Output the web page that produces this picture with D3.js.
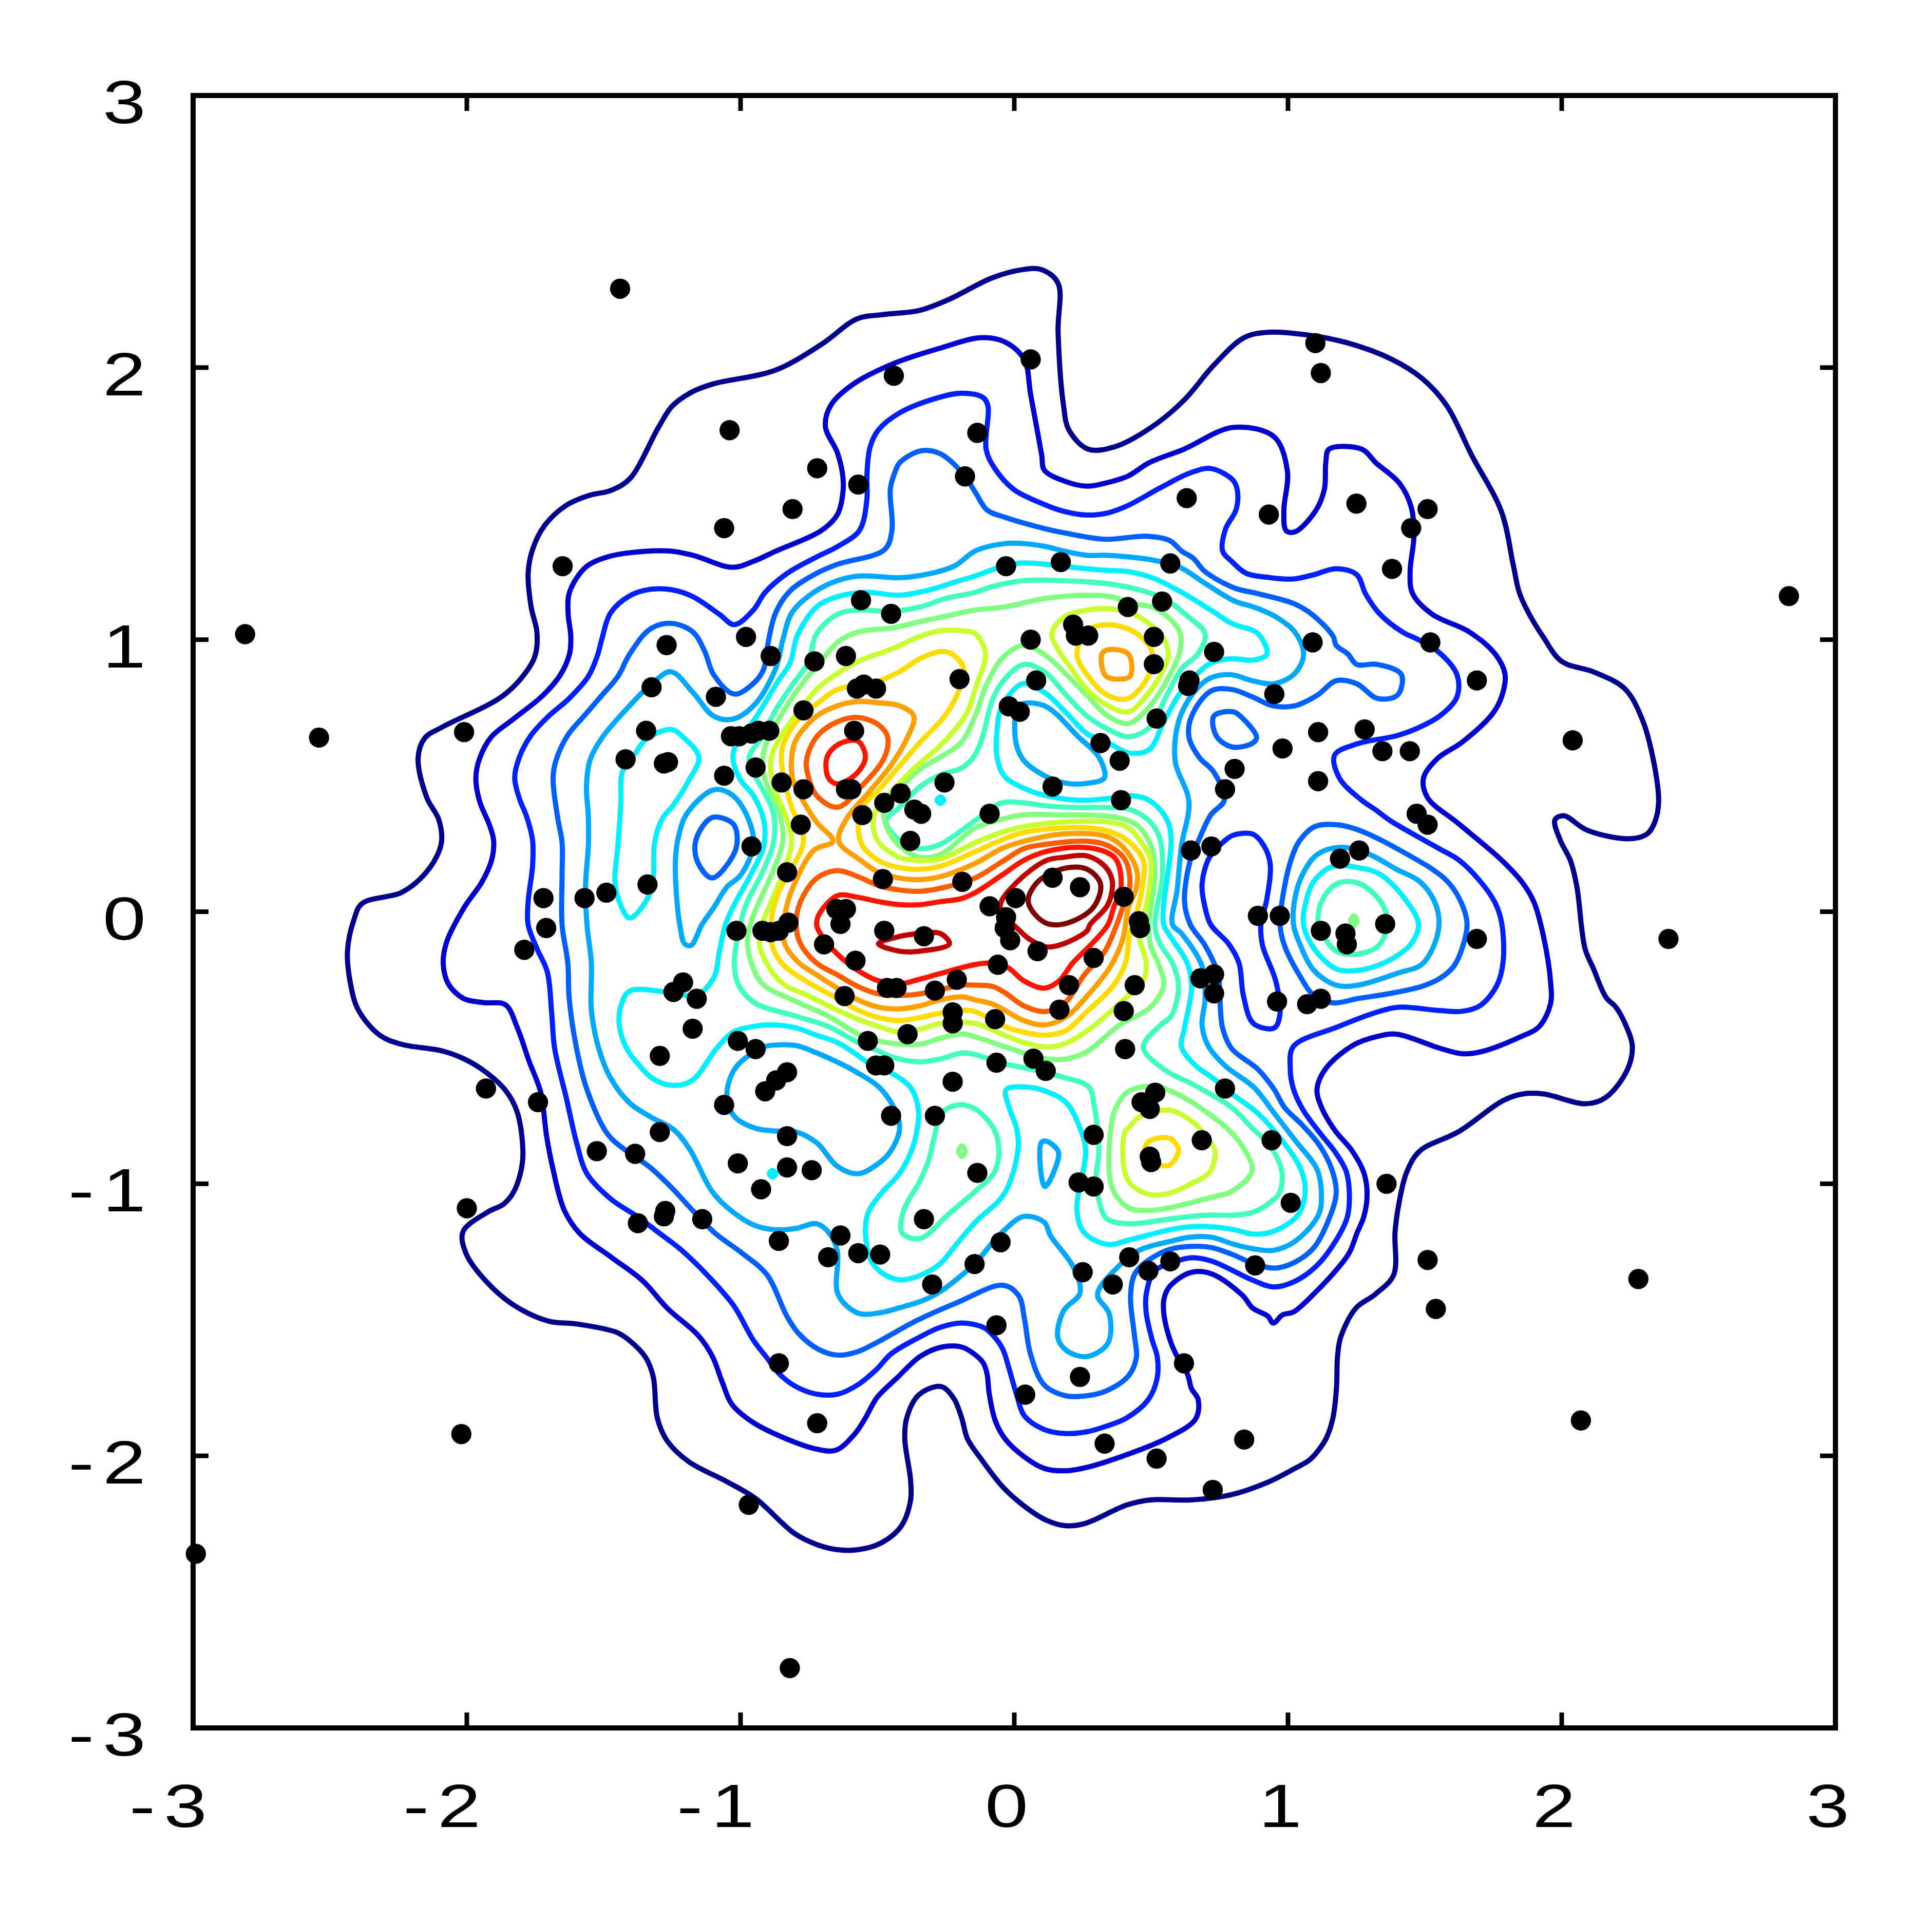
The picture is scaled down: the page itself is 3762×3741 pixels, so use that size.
<!DOCTYPE html>
<html><head><meta charset="utf-8"><style>html,body{margin:0;padding:0;background:#fff}svg{display:block}</style>
<script src="https://cdn.jsdelivr.net/npm/d3@7"></script></head><body><script>
const pointX=[-1.44,-2.81,-2.54,-2.01,-1.65,-1.72,-1.71,-1.79,-1.57,-1.49,-1.93,-1.74,-2.00,-2.02,-2.99,-0.82,-0.97,-0.72,-0.86,-0.44,0.06,-1.04,-1.06,-0.72,-0.81,-0.57,-0.135,-0.18,0.63,0.93,1.10,1.12,1.25,1.51,1.45,1.38,1.52,1.69,2.83,2.04,2.39,2.28,2.07,1.51,1.54,1.36,1.01,0.94,0.77,1.69,1.355,1.21,1.215,1.12,0.89,0.97,0.96,1.07,1.12,0.68,0.73,0.73,1.19,1.26,1.47,1.51,1.445,1.345,1.28,1.11,1.11,0.98,0.95,1.09,0.805,0.77,0.645,0.72,0.73,0.64,0.635,0.52,0.51,0.51,0.54,0.415,0.57,0.17,-0.03,0.215,0.225,0.27,0.06,0.08,-0.02,0.02,0.315,0.385,0.14,0.39,-0.09,-0.20,-0.255,-0.415,-0.475,-0.365,-0.34,-0.38,-0.555,-0.615,-0.595,-0.585,-0.575,-0.55,-0.505,-0.615,-0.73,-0.77,-0.56,-0.45,-0.89,-0.98,-1.09,-1.27,-1.325,-1.345,-1.42,-1.28,-1.265,-1.035,-1.005,-0.96,-0.935,-0.895,-0.945,-1.06,-0.85,-0.77,-0.78,-0.96,-0.83,-1.34,-1.015,-0.92,-0.89,-0.86,-0.825,-0.65,-0.615,-0.635,-0.48,-0.19,-0.475,-0.33,-0.695,-0.58,-0.62,-0.465,-0.43,-0.29,-0.21,-0.225,-0.225,-0.07,-0.06,-0.39,-0.535,-0.505,-0.475,-0.225,-0.065,0.07,0.115,-1.21,-1.245,-1.16,-1.175,-1.295,-1.01,-0.945,-0.83,-0.87,-0.91,-1.06,-1.295,-1.525,-1.385,-0.83,-1.01,-0.925,-0.83,-0.74,-0.45,-0.29,-0.135,-0.33,-1.375,-1.28,-1.275,-1.14,-0.86,-0.635,-0.68,-0.57,-0.49,-0.30,-0.145,-0.05,-0.065,0.04,0.24,0.33,0.52,0.725,0.84,0.62,0.25,0.36,0.42,0.49,0.57,0.88,0.235,0.29,0.29,0.685,0.50,0.495,0.465,0.515,0.495,0.405,0.40,0.44,0.165,0.20,0.29,0.085,-0.015,-0.035,-0.03,-0.09,0.005,0.14,0.24,0.40,0.455,0.46];
const pointY=[2.29,1.02,0.64,0.66,1.27,0.05,-0.06,-0.14,0.05,0.07,-0.65,-0.70,-1.09,-1.92,-2.36,-2.78,-2.18,-1.88,-1.66,1.97,2.03,1.77,1.41,1.63,1.48,1.57,1.76,1.60,1.52,1.46,2.09,1.98,1.50,1.48,1.41,1.26,0.99,0.85,1.16,0.63,-0.10,-1.35,-1.87,-1.28,-1.46,-1.00,-1.07,-0.84,-0.65,-0.10,-0.045,-0.08,-0.12,-0.07,-0.015,-0.015,-0.33,-0.34,-0.32,-0.245,-0.23,-0.30,0.195,0.225,0.36,0.32,0.59,0.59,0.67,0.66,0.48,0.60,0.80,0.99,0.525,0.45,0.225,0.24,0.955,0.85,0.83,0.71,1.01,0.91,1.14,1.12,1.28,1.285,1.27,1.055,1.015,1.015,1.00,0.85,0.755,0.735,0.62,0.555,0.46,0.41,0.36,0.855,0.475,0.435,0.40,0.375,0.36,0.26,0.355,0.45,0.45,0.665,0.82,0.835,0.82,0.94,0.92,0.74,1.145,1.095,0.94,1.01,0.79,0.98,0.825,0.665,0.56,0.545,0.55,0.645,0.645,0.655,0.665,0.665,0.53,0.50,0.475,0.45,0.32,0.24,0.145,0.10,-0.07,-0.07,-0.075,-0.07,-0.04,0.01,0.01,-0.045,0.12,0.11,-0.07,-0.09,-0.12,-0.18,-0.31,-0.28,-0.28,-0.29,-0.25,-0.37,-0.41,-0.395,-0.195,-0.45,-0.475,-0.565,-0.565,-0.625,-0.555,-0.54,-0.585,-0.26,-0.295,-0.32,-0.43,-0.53,-0.475,-0.505,-0.59,-0.62,-0.66,-0.71,-0.81,-0.88,-0.89,-0.825,-0.925,-1.02,-0.94,-0.95,-0.75,-0.75,-0.96,-1.13,-1.145,-1.12,-1.10,-1.13,-1.21,-1.19,-1.27,-1.255,-1.26,-1.37,-1.295,-1.215,-1.52,-1.775,-1.71,-1.955,-2.01,-2.125,-1.94,-1.66,-1.325,-1.37,-1.27,-1.32,-1.285,-1.30,-0.995,-1.01,-0.82,-0.84,-0.92,-0.90,-0.70,-0.665,-0.725,-0.505,-0.365,-0.27,-0.36,-0.27,-0.17,-0.145,-0.105,-0.06,-0.02,0.02,0.05,0.125,0.09,0.055,-0.035,-0.06];
const tickValues=[-3,-2,-1,0,1,2,3];
const levelColors=["#00008f","#0000cf","#0020ff","#0060ff","#00a8ff","#00f0ff","#40ffc0","#80ff80","#c8ff30","#ffdc00","#ffa000","#ff5c00","#ff1400","#c00000","#800000"];

// Contour rings, in data units: x,y,x,y,...
const level0=[[0.03,2.36,0.10,2.36,0.16,2.31,0.16,2.13,0.18,1.86,0.20,1.77,0.27,1.70,0.37,1.71,0.50,1.78,0.62,1.88,0.73,2.01,0.84,2.11,0.93,2.13,1.07,2.12,1.22,2.09,1.38,2.03,1.49,1.96,1.58,1.86,1.67,1.68,1.78,1.47,1.823,1.274,1.845,1.173,1.879,1.098,1.933,1.009,2.0,0.92,2.12,0.88,2.23,0.82,2.294,0.7075,2.336,0.551,2.354,0.407,2.342,0.335,2.312,0.286,2.24,0.268,2.09,0.301,2.007,0.353,1.975,0.337,1.995,0.262,2.031,0.19,2.055,0.094,2.085,-0.135,2.115,-0.207,2.162,-0.315,2.198,-0.351,2.234,-0.417,2.258,-0.495,2.24,-0.58,2.162,-0.682,2.087,-0.706,1.935,-0.67,1.857,-0.67,1.786,-0.694,1.624,-0.808,1.481,-0.88,1.433,-0.959,1.403,-1.085,1.391,-1.179,1.386,-1.335,1.319,-1.406,1.248,-1.457,1.193,-1.562,1.181,-1.634,1.177,-1.752,1.164,-1.861,1.139,-1.937,1.101,-1.992,1.076,-2.017,1.018,-2.05,0.926,-2.097,0.792,-2.143,0.647,-2.162,0.497,-2.162,0.41,-2.181,0.26,-2.248,0.188,-2.257,0.116,-2.236,0.037,-2.185,-0.042,-2.114,-0.12,-2.013,-0.171,-1.937,-0.192,-1.861,-0.221,-1.789,-0.268,-1.745,-0.35,-1.777,-0.393,-1.861,-0.4,-1.937,-0.379,-2.088,-0.379,-2.164,-0.415,-2.261,-0.494,-2.324,-0.572,-2.345,-0.644,-2.345,-0.716,-2.328,-0.802,-2.286,-0.946,-2.156,-1.046,-2.097,-1.19,-2.021,-1.268,-1.945,-1.304,-1.861,-1.319,-1.709,-1.347,-1.638,-1.412,-1.571,-1.455,-1.545,-1.60,-1.515,-1.701,-1.505,-1.83,-1.445,-1.931,-1.357,-2.003,-1.256,-2.014,-1.176,-1.924,-1.104,-1.866,-1.075,-1.83,-1.032,-1.802,-0.952,-1.795,-0.88,-1.816,-0.736,-1.859,-0.656,-1.938,-0.584,-2.01,-0.541,-2.089,-0.512,-2.24,-0.487,-2.318,-0.454,-2.397,-0.36,-2.426,-0.259,-2.436,-0.144,-2.412,-0.028,-2.383,0.03,-2.24,0.07,-2.168,0.123,-2.11,0.203,-2.092,0.261,-2.103,0.34,-2.146,0.419,-2.178,0.564,-2.153,0.639,-2.089,0.679,-1.866,0.795,-1.773,0.896,-1.749,0.947,-1.744,1.028,-1.765,1.12,-1.776,1.244,-1.76,1.331,-1.717,1.418,-1.636,1.494,-1.55,1.531,-1.475,1.548,-1.405,1.591,-1.30,1.78,-1.25,1.858,-1.178,1.91,-1.10,1.94,-0.874,1.99,-0.705,2.085,-0.574,2.179,-0.478,2.195,-0.347,2.21,-0.24,2.25,-0.08,2.33]];
const level1=[[-0.67,1.862,-0.587,1.94,-0.44,2.015,-0.276,2.07,-0.12,2.11,-0.036,2.095,0.036,2.03,0.06,1.90,0.10,1.68,0.11,1.623,0.191,1.58,0.266,1.564,0.331,1.575,0.417,1.602,0.492,1.65,0.62,1.70,0.80,1.78,0.95,1.745,0.998,1.618,0.985,1.477,0.993,1.401,1.025,1.396,1.10,1.472,1.133,1.553,1.138,1.65,1.15,1.70,1.27,1.70,1.321,1.65,1.407,1.575,1.45,1.488,1.46,1.38,1.446,1.249,1.455,1.17,1.526,1.094,1.663,1.028,1.757,0.947,1.793,0.872,1.78,0.789,1.746,0.726,1.636,0.623,1.546,0.563,1.495,0.491,1.51,0.419,1.624,0.323,1.78,0.19,1.857,0.106,1.899,0.034,1.935,-0.098,1.959,-0.255,1.959,-0.339,1.917,-0.423,1.851,-0.459,1.708,-0.514,1.636,-0.522,1.552,-0.501,1.397,-0.45,1.325,-0.459,1.241,-0.489,1.14,-0.574,1.106,-0.652,1.122,-0.718,1.17,-0.802,1.235,-0.88,1.277,-0.959,1.289,-1.037,1.277,-1.121,1.253,-1.179,1.223,-1.255,1.172,-1.322,1.101,-1.398,1.022,-1.47,0.98,-1.482,0.946,-1.512,0.926,-1.486,0.871,-1.457,0.834,-1.41,0.721,-1.331,0.645,-1.326,0.568,-1.377,0.547,-1.423,0.547,-1.482,0.568,-1.571,0.59,-1.625,0.633,-1.7,0.647,-1.752,0.672,-1.794,0.662,-1.865,0.554,-1.937,0.41,-1.996,0.267,-2.042,0.188,-2.055,0.109,-2.046,0.037,-2.004,-0.034,-1.937,-0.07,-1.869,-0.092,-1.768,-0.099,-1.701,-0.113,-1.659,-0.142,-1.629,-0.192,-1.6,-0.264,-1.6,-0.343,-1.634,-0.429,-1.714,-0.501,-1.785,-0.544,-1.861,-0.58,-1.916,-0.651,-1.979,-0.723,-1.975,-0.824,-1.941,-0.953,-1.878,-1.032,-1.81,-1.068,-1.726,-1.103,-1.634,-1.154,-1.558,-1.268,-1.457,-1.357,-1.357,-1.472,-1.27,-1.587,-1.183,-1.644,-1.097,-1.687,-0.938,-1.709,-0.822,-1.73,-0.664,-1.773,-0.548,-1.816,-0.425,-1.859,-0.342,-1.938,-0.334,-2.01,-0.32,-2.067,-0.266,-2.086,-0.194,-2.075,-0.115,-2.01,0.015,-1.945,0.109,-1.91,0.188,-1.902,0.261,-1.917,0.318,-1.953,0.405,-1.967,0.492,-1.953,0.564,-1.91,0.643,-1.83,0.708,-1.722,0.795,-1.658,0.871,-1.625,0.947,-1.62,1.01,-1.63,1.098,-1.625,1.174,-1.566,1.266,-1.486,1.304,-1.40,1.32,-1.26,1.326,-1.174,1.31,-1.03,1.266,-0.953,1.288,-0.872,1.325,-0.706,1.40,-0.646,1.46,-0.625,1.553,-0.628,1.613,-0.647,1.689,-0.69,1.783]];
const level2=[[-0.527,1.707,-0.497,1.77,-0.418,1.834,-0.276,1.89,-0.19,1.906,-0.114,1.89,-0.096,1.858,-0.103,1.70,-0.073,1.632,-0.003,1.553,0.105,1.499,0.18,1.472,0.266,1.458,0.342,1.466,0.417,1.494,0.535,1.559,0.643,1.613,0.718,1.629,0.799,1.586,0.815,1.548,0.81,1.477,0.772,1.407,0.761,1.326,0.794,1.288,0.847,1.244,0.934,1.228,1.02,1.223,1.095,1.239,1.176,1.261,1.251,1.239,1.283,1.169,1.332,1.098,1.418,1.028,1.476,1.0,1.545,0.959,1.617,0.872,1.617,0.789,1.555,0.72,1.476,0.676,1.397,0.647,1.253,0.617,1.17,0.575,1.188,0.491,1.265,0.413,1.325,0.371,1.373,0.335,1.552,0.232,1.624,0.19,1.702,0.112,1.756,0.034,1.78,-0.038,1.786,-0.183,1.762,-0.273,1.702,-0.345,1.636,-0.366,1.552,-0.363,1.403,-0.351,1.325,-0.369,1.182,-0.423,1.02,-0.495,1.008,-0.574,1.02,-0.652,1.056,-0.73,1.122,-0.82,1.17,-0.88,1.212,-0.953,1.224,-1.031,1.217,-1.121,1.176,-1.207,1.101,-1.305,1.022,-1.36,0.946,-1.379,0.875,-1.356,0.72,-1.284,0.645,-1.272,0.568,-1.293,0.511,-1.322,0.482,-1.406,0.482,-1.474,0.504,-1.575,0.522,-1.634,0.522,-1.714,0.489,-1.794,0.41,-1.861,0.339,-1.89,0.267,-1.911,0.188,-1.918,0.109,-1.903,0.037,-1.853,0.009,-1.777,-0.02,-1.676,-0.042,-1.608,-0.077,-1.558,-0.113,-1.528,-0.192,-1.512,-0.271,-1.528,-0.343,-1.562,-0.45,-1.625,-0.501,-1.68,-0.572,-1.739,-0.644,-1.773,-0.723,-1.773,-0.802,-1.743,-0.86,-1.697,-0.902,-1.642,-0.953,-1.575,-1.025,-1.448,-1.111,-1.347,-1.218,-1.242,-1.292,-1.185,-1.378,-1.12,-1.475,-1.055,-1.561,-0.963,-1.599,-0.849,-1.636,-0.687,-1.679,-0.503,-1.69,-0.373,-1.706,-0.221,-1.744,-0.135,-1.776,-0.048,-1.776,0.037,-1.76,0.167,-1.76,0.264,-1.782,0.351,-1.808,0.416,-1.825,0.492,-1.808,0.568,-1.765,0.649,-1.701,0.719,-1.626,0.784,-1.556,0.865,-1.523,0.941,-1.507,1.001,-1.475,1.098,-1.405,1.161,-1.33,1.185,-1.249,1.183,-1.174,1.158,-1.077,1.093,-1.023,1.055,-0.953,1.109,-0.91,1.174,-0.829,1.244,-0.722,1.304,-0.646,1.342,-0.566,1.401,-0.539,1.51,-0.538,1.613],
 [0.761,0.254,0.799,0.281,0.869,0.286,0.901,0.259,0.934,0.183,0.923,0.048,0.901,-0.047,0.907,-0.124,0.955,-0.254,0.971,-0.373,0.95,-0.427,0.874,-0.411,0.837,-0.308,0.821,-0.189,0.783,-0.118,0.718,-0.048,0.697,0.015,0.686,0.102,0.713,0.2]];
const level3=[[-0.437,1.613,-0.418,1.651,-0.341,1.694,-0.27,1.683,-0.19,1.613,-0.1425,1.542,-0.1,1.477,-0.035,1.45,0.116,1.407,0.191,1.391,0.331,1.369,0.482,1.38,0.568,1.364,0.611,1.326,0.654,1.299,0.697,1.25,0.804,1.19,0.89,1.169,1.025,1.131,1.095,1.087,1.165,1.012,1.176,0.979,1.219,0.947,1.251,0.909,1.326,0.909,1.414,0.872,1.40,0.796,1.326,0.784,1.251,0.838,1.176,0.849,1.106,0.795,1.025,0.757,0.944,0.757,0.869,0.79,0.794,0.817,0.718,0.811,0.648,0.719,0.638,0.643,0.675,0.568,0.729,0.513,0.767,0.41,0.718,0.356,0.67,0.254,0.643,0.189,0.622,0.037,0.643,-0.047,0.697,-0.124,0.745,-0.232,0.751,-0.319,0.761,-0.427,0.794,-0.503,0.89,-0.579,0.95,-0.654,0.987,-0.719,1.052,-0.784,1.116,-0.86,1.16,-0.947,1.176,-1.034,1.149,-1.131,1.095,-1.234,1.025,-1.288,0.95,-1.31,0.874,-1.293,0.795,-1.259,0.719,-1.234,0.647,-1.23,0.554,-1.246,0.446,-1.322,0.425,-1.406,0.439,-1.558,0.446,-1.638,0.418,-1.705,0.339,-1.76,0.267,-1.779,0.188,-1.779,0.109,-1.739,0.059,-1.625,0.037,-1.495,0.016,-1.411,-0.041,-1.373,-0.207,-1.436,-0.357,-1.503,-0.494,-1.579,-0.572,-1.617,-0.644,-1.63,-0.716,-1.608,-0.788,-1.55,-0.831,-1.486,-0.903,-1.335,-0.989,-1.259,-1.096,-1.179,-1.174,-1.099,-1.254,-1.012,-1.335,-0.936,-1.421,-0.876,-1.486,-0.817,-1.561,-0.654,-1.599,-0.503,-1.626,-0.319,-1.631,-0.189,-1.652,-0.048,-1.652,0.134,-1.652,0.254,-1.669,0.351,-1.685,0.492,-1.674,0.557,-1.631,0.649,-1.572,0.719,-1.507,0.795,-1.448,0.865,-1.405,0.947,-1.33,1.039,-1.254,1.06,-1.174,1.028,-1.131,0.957,-1.098,0.871,-1.023,0.8,-0.948,0.844,-0.915,0.893,-0.899,0.99,-0.872,1.098,-0.819,1.179,-0.722,1.244,-0.646,1.277,-0.474,1.331,-0.447,1.401,-0.453,1.553],
 [0.729,0.719,0.799,0.735,0.831,0.714,0.885,0.643,0.874,0.622,0.799,0.605,0.74,0.643],
 [-1.163,0.264,-1.104,0.346,-1.028,0.324,-1.012,0.264,-1.028,0.205,-1.104,0.124,-1.157,0.183],
 [1.576,0.118,1.63,0.04,1.654,-0.044,1.636,-0.135,1.606,-0.2,1.558,-0.243,1.493,-0.273,1.364,-0.302,1.256,-0.319,1.165,-0.335,1.095,-0.308,1.041,-0.232,0.987,-0.124,0.971,-0.047,0.987,0.091,1.014,0.2,1.041,0.259,1.098,0.313,1.176,0.32,1.253,0.302,1.409,0.226]];
const level4=[[-0.1425,1.326,-0.035,1.353,0.035,1.353,0.116,1.342,0.18,1.326,0.266,1.31,0.342,1.31,0.417,1.304,0.503,1.293,0.605,1.266,0.697,1.207,0.804,1.142,0.874,1.12,0.95,1.087,1.025,1.028,1.057,0.947,1.025,0.876,0.95,0.838,0.869,0.849,0.794,0.871,0.718,0.86,0.665,0.817,0.611,0.73,0.589,0.643,0.589,0.546,0.638,0.405,0.611,0.243,0.595,0.08,0.578,-0.047,0.611,-0.08,0.686,-0.2,0.697,-0.319,0.686,-0.416,0.708,-0.492,0.772,-0.568,0.874,-0.644,0.95,-0.741,1.025,-0.839,1.106,-0.947,1.122,-1.034,1.111,-1.115,1.025,-1.212,0.944,-1.245,0.874,-1.239,0.804,-1.223,0.718,-1.196,0.643,-1.196,0.568,-1.212,0.455,-1.245,0.374,-1.31,0.304,-1.407,0.347,-1.478,0.342,-1.586,0.266,-1.635,0.191,-1.613,0.159,-1.564,0.18,-1.467,0.24,-1.402,0.218,-1.31,0.132,-1.19,0.11,-1.142,0.035,-1.12,-0.051,-1.185,-0.143,-1.293,-0.173,-1.32,-0.27,-1.396,-0.334,-1.429,-0.42,-1.456,-0.496,-1.475,-0.572,-1.475,-0.644,-1.406,-0.646,-1.25,-0.673,-1.185,-0.722,-1.147,-0.797,-1.164,-0.872,-1.169,-0.948,-1.153,-1.028,-1.104,-1.104,-1.028,-1.184,-0.876,-1.244,-0.801,-1.324,-0.757,-1.405,-0.703,-1.475,-0.611,-1.518,-0.503,-1.545,-0.362,-1.545,-0.189,-1.561,-0.048,-1.566,0.102,-1.556,0.243,-1.556,0.351,-1.563,0.459,-1.55,0.557,-1.507,0.638,-1.41,0.752,-1.324,0.838,-1.254,0.882,-1.174,0.806,-1.098,0.719,-1.028,0.708,-0.948,0.762,-0.872,0.893,-0.845,1.001,-0.813,1.098,-0.732,1.174,-0.646,1.217,-0.566,1.234,-0.41,1.228,-0.302,1.244,-0.216,1.272],
 [-1.238,0.188,-1.227,0.275,-1.195,0.362,-1.098,0.448,-1.028,0.427,-0.969,0.335,-0.953,0.243,-1.0,0.134,-1.05,0.091,-1.098,0.015,-1.141,-0.047,-1.181,-0.124,-1.204,-0.118,-1.222,-0.048,-1.233,0.048],
 [0.019,0.757,0.11,0.757,0.234,0.643,0.309,0.568,0.329,0.492,0.266,0.472,0.191,0.472,0.116,0.497,0.03,0.562,0.003,0.643],
 [-1.05,-0.676,-1.018,-0.573,-0.915,-0.497,-0.872,-0.49,-0.797,-0.492,-0.722,-0.519,-0.576,-0.59,-0.485,-0.654,-0.426,-0.752,-0.42,-0.806,-0.453,-0.882,-0.496,-0.925,-0.571,-0.963,-0.646,-0.936,-0.722,-0.849,-0.808,-0.806,-0.872,-0.806,-0.948,-0.795,-1.023,-0.752],
 [0.1,-0.847,0.119,-0.844,0.161,-0.882,0.148,-0.947,0.112,-1.01,0.096,-0.947],
 [1.534,0.04,1.48,0.112,1.396,0.156,1.299,0.21,1.192,0.237,1.104,0.208,1.05,0.13,1.025,0.048,1.02,-0.047,1.041,-0.113,1.095,-0.216,1.176,-0.27,1.256,-0.27,1.403,-0.225,1.487,-0.195,1.534,-0.122,1.552,-0.038]];
const level5=[[-0.143,1.234,-0.216,1.212,-0.302,1.185,-0.42,1.163,-0.539,1.174,-0.646,1.158,-0.722,1.12,-0.792,1.017,-0.819,0.914,-0.862,0.849,-0.948,0.708,-1.012,0.622,-1.028,0.568,-1.001,0.486,-0.953,0.427,-0.915,0.335,-0.915,0.243,-0.969,0.124,-1.023,0.026,-1.055,-0.047,-1.077,-0.145,-1.098,-0.243,-1.163,-0.308,-1.254,-0.297,-1.405,-0.292,-1.437,-0.346,-1.443,-0.416,-1.416,-0.503,-1.367,-0.568,-1.324,-0.611,-1.254,-0.638,-1.179,-0.622,-1.088,-0.503,-1.028,-0.443,-0.953,-0.422,-0.878,-0.416,-0.797,-0.427,-0.722,-0.454,-0.646,-0.481,-0.576,-0.525,-0.539,-0.552,-0.453,-0.59,-0.377,-0.649,-0.35,-0.73,-0.356,-0.806,-0.377,-0.882,-0.42,-0.963,-0.485,-1.034,-0.533,-1.104,-0.544,-1.18,-0.523,-1.283,-0.485,-1.326,-0.42,-1.353,-0.345,-1.337,-0.27,-1.293,-0.216,-1.228,-0.143,-1.142,-0.035,-1.034,0.014,-0.871,0.008,-0.795,-0.019,-0.719,-0.03,-0.654,0.04,-0.644,0.116,-0.66,0.191,-0.703,0.24,-0.795,0.261,-0.876,0.229,-1.099,0.256,-1.18,0.342,-1.223,0.417,-1.207,0.568,-1.169,0.643,-1.158,0.718,-1.158,0.804,-1.169,0.874,-1.185,0.95,-1.174,1.036,-1.115,1.063,-1.028,1.047,-0.947,0.977,-0.839,0.89,-0.741,0.804,-0.676,0.718,-0.606,0.665,-0.568,0.611,-0.497,0.622,-0.427,0.648,-0.275,0.632,-0.189,0.578,-0.102,0.546,-0.048,0.546,0.026,0.573,0.264,0.557,0.34,0.492,0.41,0.417,0.427,0.342,0.416,0.234,0.41,0.116,0.427,0.035,0.454,-0.035,0.497,-0.062,0.562,-0.062,0.676,-0.046,0.752,0.03,0.838,0.11,0.806,0.191,0.73,0.266,0.654,0.342,0.622,0.417,0.584,0.492,0.595,0.546,0.698,0.6,0.795,0.665,0.871,0.718,0.914,0.794,0.93,0.874,0.925,0.923,0.947,0.89,1.022,0.794,1.06,0.718,1.109,0.611,1.174,0.503,1.228,0.417,1.25,0.331,1.255,0.213,1.266,0.116,1.277,0.035,1.282,-0.035,1.272],
 [-1.254,0.67,-1.206,0.638,-1.152,0.568,-1.19,0.481,-1.244,0.394,-1.287,0.34,-1.314,0.254,-1.319,0.124,-1.34,0.048,-1.405,-0.023,-1.443,0.037,-1.459,0.113,-1.448,0.243,-1.437,0.405,-1.432,0.513,-1.383,0.584,-1.346,0.633],
 [1.477,-0.047,1.418,0.059,1.332,0.14,1.256,0.162,1.165,0.167,1.095,0.113,1.063,0.026,1.057,-0.047,1.095,-0.135,1.176,-0.21,1.251,-0.216,1.337,-0.194,1.407,-0.156,1.45,-0.118],
 [-0.282,0.41,-0.27,0.422,-0.258,0.41,-0.27,0.398],
 [-0.895,-0.963,-0.883,-0.951,-0.871,-0.963,-0.883,-0.975]];
const level6=[[-0.143,1.174,-0.248,1.152,-0.345,1.12,-0.453,1.104,-0.571,1.109,-0.646,1.093,-0.722,1.022,-0.754,0.914,-0.808,0.838,-0.872,0.741,-0.921,0.643,-0.969,0.568,-0.948,0.503,-0.883,0.373,-0.878,0.264,-0.915,0.156,-0.98,0.026,-1.001,-0.047,-1.023,-0.189,-1.007,-0.27,-0.948,-0.335,-0.797,-0.384,-0.679,-0.422,-0.571,-0.481,-0.506,-0.508,-0.442,-0.535,-0.345,-0.552,-0.27,-0.541,-0.189,-0.519,-0.1425,-0.525,-0.046,-0.557,0.062,-0.579,0.17,-0.606,0.272,-0.644,0.293,-0.719,0.309,-0.882,0.299,-0.979,0.32,-1.099,0.342,-1.131,0.417,-1.147,0.557,-1.131,0.643,-1.12,0.718,-1.115,0.804,-1.115,0.874,-1.104,0.944,-1.061,0.971,-1.028,0.977,-0.952,0.934,-0.86,0.869,-0.795,0.794,-0.719,0.659,-0.638,0.546,-0.579,0.471,-0.497,0.535,-0.416,0.573,-0.384,0.6,-0.275,0.578,-0.189,0.53,-0.113,0.514,-0.048,0.541,0.134,0.53,0.275,0.492,0.335,0.417,0.378,0.342,0.383,0.213,0.383,0.116,0.389,0.035,0.4,-0.046,0.4,-0.143,0.335,-0.27,0.248,-0.345,0.232,-0.42,0.264,-0.469,0.335,-0.42,0.383,-0.345,0.459,-0.27,0.503,-0.189,0.53,-0.1425,0.578,-0.116,0.643,-0.078,0.784,-0.035,0.855,0.035,0.909,0.11,0.882,0.191,0.795,0.266,0.719,0.342,0.671,0.417,0.643,0.492,0.676,0.557,0.795,0.611,0.893,0.67,0.947,0.697,1.022,0.632,1.087,0.578,1.131,0.503,1.169,0.428,1.19,0.331,1.207,0.18,1.217,0.035,1.217,-0.078,1.196],
 [-0.194,-0.709,-0.254,-0.73,-0.281,-0.784,-0.313,-0.914,-0.345,-0.99,-0.404,-1.098,-0.41,-1.18,-0.345,-1.201,-0.237,-1.109,-0.143,-1.028,-0.073,-0.958,-0.056,-0.876,-0.073,-0.801,-0.11,-0.752,-0.1425,-0.725],
 [1.359,-0.006,1.321,0.059,1.251,0.107,1.176,0.102,1.122,0.037,1.111,-0.047,1.138,-0.102,1.176,-0.145,1.251,-0.156,1.326,-0.129,1.359,-0.07]];
const level7=[[-0.143,1.109,-0.248,1.087,-0.345,1.066,-0.442,1.044,-0.571,1.028,-0.646,0.99,-0.711,0.914,-0.775,0.838,-0.872,0.687,-0.915,0.589,-0.915,0.503,-0.856,0.351,-0.845,0.264,-0.883,0.145,-0.937,0.026,-0.964,-0.047,-0.975,-0.113,-0.953,-0.21,-0.915,-0.27,-0.797,-0.33,-0.679,-0.384,-0.571,-0.449,-0.496,-0.476,-0.345,-0.487,-0.27,-0.465,-0.189,-0.449,-0.143,-0.46,-0.046,-0.492,0.035,-0.519,0.116,-0.541,0.191,-0.541,0.266,-0.514,0.385,-0.416,0.498,-0.351,0.546,-0.27,0.53,-0.2,0.498,-0.124,0.492,-0.048,0.514,0.134,0.503,0.232,0.46,0.308,0.417,0.335,0.342,0.351,0.18,0.356,0.035,0.356,-0.046,0.34,-0.1425,0.308,-0.27,0.21,-0.345,0.2,-0.42,0.243,-0.469,0.318,-0.474,0.383,-0.42,0.448,-0.345,0.524,-0.27,0.568,-0.194,0.622,-0.143,0.719,-0.1,0.838,-0.04,0.936,0.035,0.979,0.116,0.941,0.191,0.871,0.266,0.795,0.342,0.719,0.417,0.692,0.492,0.752,0.557,0.849,0.605,0.957,0.605,1.028,0.557,1.087,0.503,1.12,0.444,1.131,0.352,1.158,0.266,1.163,0.116,1.152,-0.035,1.12],
 [0.417,-0.66,0.514,-0.641,0.573,-0.66,0.654,-0.703,0.708,-0.741,0.783,-0.801,0.842,-0.876,0.869,-0.952,0.794,-1.028,0.718,-1.05,0.568,-1.088,0.492,-1.098,0.417,-1.088,0.363,-1.028,0.347,-0.958,0.352,-0.806,0.369,-0.725],
 [-0.203,-0.88,-0.191,-0.86,-0.179,-0.88,-0.191,-0.9],
 [1.228,-0.033,1.24,-0.015,1.252,-0.033,1.24,-0.051]];
const level8=[[-0.1425,1.022,-0.105,0.947,-0.132,0.849,-0.143,0.817,-0.173,0.73,-0.27,0.611,-0.345,0.546,-0.442,0.448,-0.512,0.356,-0.501,0.264,-0.42,0.2,-0.345,0.189,-0.27,0.194,-0.1425,0.254,-0.046,0.292,0.035,0.313,0.18,0.33,0.342,0.33,0.417,0.308,0.465,0.254,0.498,0.189,0.487,0.048,0.471,-0.017,0.455,-0.048,0.455,-0.091,0.482,-0.189,0.471,-0.254,0.417,-0.308,0.266,-0.438,0.18,-0.487,0.116,-0.497,0.035,-0.481,-0.035,-0.454,-0.143,-0.411,-0.27,-0.411,-0.345,-0.432,-0.42,-0.443,-0.496,-0.422,-0.571,-0.395,-0.646,-0.362,-0.754,-0.308,-0.845,-0.265,-0.905,-0.189,-0.932,-0.113,-0.921,-0.047,-0.883,0.048,-0.835,0.167,-0.813,0.264,-0.835,0.351,-0.878,0.459,-0.889,0.562,-0.84,0.665,-0.775,0.752,-0.722,0.817,-0.646,0.876,-0.571,0.92,-0.442,0.968,-0.345,1.012,-0.27,1.033,-0.194,1.033],
 [0.137,1.022,0.18,1.082,0.266,1.109,0.342,1.114,0.439,1.093,0.503,1.05,0.541,1.012,0.563,0.947,0.546,0.893,0.492,0.806,0.417,0.735,0.342,0.757,0.266,0.817,0.202,0.903,0.164,0.957],
 [0.417,-0.795,0.46,-0.752,0.568,-0.73,0.654,-0.774,0.718,-0.849,0.734,-0.882,0.713,-0.958,0.643,-1.001,0.568,-1.034,0.492,-1.039,0.417,-0.99,0.396,-0.882,0.406,-0.806]];
const level9=[[-0.264,0.957,-0.345,0.93,-0.42,0.882,-0.506,0.844,-0.646,0.817,-0.722,0.763,-0.797,0.698,-0.845,0.611,-0.851,0.568,-0.84,0.481,-0.813,0.384,-0.77,0.264,-0.808,0.167,-0.862,0.07,-0.889,-0.047,-0.883,-0.129,-0.845,-0.194,-0.754,-0.259,-0.646,-0.319,-0.571,-0.362,-0.496,-0.389,-0.42,-0.4,-0.345,-0.389,-0.27,-0.373,-0.189,-0.362,-0.143,-0.367,-0.035,-0.422,0.035,-0.443,0.11,-0.454,0.186,-0.438,0.266,-0.367,0.363,-0.27,0.406,-0.189,0.422,-0.08,0.449,0.004,0.471,0.113,0.471,0.189,0.417,0.259,0.342,0.297,0.266,0.308,0.18,0.308,0.035,0.292,-0.046,0.264,-0.1425,0.221,-0.27,0.167,-0.345,0.156,-0.42,0.162,-0.496,0.188,-0.56,0.254,-0.56,0.373,-0.485,0.459,-0.42,0.535,-0.345,0.622,-0.254,0.719,-0.205,0.806,-0.184,0.892,-0.227,0.947],
 [0.229,0.947,0.266,1.033,0.336,1.055,0.417,1.039,0.46,1.012,0.503,0.957,0.492,0.871,0.417,0.784,0.342,0.795,0.266,0.871],
 [0.476,-0.876,0.492,-0.844,0.568,-0.833,0.6,-0.876,0.568,-0.931,0.53,-0.931,0.482,-0.914]];
const level10=[[-0.641,0.259,-0.614,0.34,-0.528,0.443,-0.453,0.535,-0.394,0.633,-0.367,0.719,-0.42,0.757,-0.496,0.768,-0.571,0.773,-0.646,0.757,-0.722,0.719,-0.797,0.633,-0.813,0.568,-0.808,0.481,-0.77,0.405,-0.722,0.329,-0.662,0.259,-0.732,0.226,-0.808,0.091,-0.835,0.004,-0.84,-0.047,-0.84,-0.113,-0.792,-0.183,-0.722,-0.232,-0.646,-0.281,-0.571,-0.324,-0.496,-0.351,-0.42,-0.357,-0.345,-0.346,-0.27,-0.324,-0.189,-0.313,-0.143,-0.324,-0.078,-0.34,0.035,-0.4,0.11,-0.416,0.186,-0.389,0.277,-0.297,0.352,-0.2,0.396,-0.102,0.417,0.015,0.444,0.08,0.449,0.145,0.412,0.221,0.342,0.275,0.18,0.286,0.035,0.259,-0.046,0.232,-0.1425,0.178,-0.27,0.129,-0.345,0.118,-0.42,0.124,-0.496,0.145,-0.56,0.188],
 [0.32,0.947,0.342,0.963,0.417,0.947,0.422,0.865,0.336,0.865]];
const level11=[[-0.759,0.557,-0.722,0.643,-0.646,0.698,-0.571,0.714,-0.496,0.687,-0.463,0.643,-0.474,0.568,-0.56,0.459,-0.646,0.384,-0.722,0.427,-0.754,0.503],
 [-0.722,0.123,-0.646,0.151,-0.571,0.129,-0.496,0.096,-0.42,0.08,-0.345,0.075,-0.27,0.086,-0.143,0.124,-0.046,0.183,0.035,0.232,0.116,0.248,0.266,0.259,0.342,0.243,0.406,0.189,0.422,0.091,0.396,0.015,0.374,-0.048,0.331,-0.145,0.256,-0.232,0.18,-0.34,0.11,-0.367,0.035,-0.346,-0.035,-0.297,-0.078,-0.275,-0.1425,-0.27,-0.189,-0.27,-0.27,-0.286,-0.345,-0.302,-0.42,-0.308,-0.496,-0.302,-0.571,-0.275,-0.646,-0.232,-0.722,-0.189,-0.781,-0.118,-0.797,-0.048,-0.781,0.037]];
const level12=[[-0.684,0.568,-0.641,0.616,-0.571,0.627,-0.544,0.568,-0.576,0.508,-0.646,0.47,-0.679,0.492],
 [-0.711,-0.006,-0.646,0.059,-0.571,0.053,-0.496,0.037,-0.42,0.026,-0.345,0.026,-0.27,0.037,-0.194,0.048,-0.143,0.07,-0.046,0.134,0.035,0.189,0.116,0.221,0.234,0.237,0.331,0.221,0.374,0.189,0.39,0.091,0.363,0.015,0.342,-0.048,0.288,-0.113,0.213,-0.189,0.164,-0.254,0.11,-0.281,0.035,-0.254,-0.024,-0.205,-0.089,-0.189,-0.1425,-0.194,-0.27,-0.227,-0.345,-0.248,-0.42,-0.265,-0.496,-0.254,-0.571,-0.216,-0.646,-0.156,-0.705,-0.086,-0.722,-0.048]];
const level13=[[-0.496,-0.118,-0.42,-0.091,-0.345,-0.08,-0.27,-0.08,-0.237,-0.118,-0.345,-0.145,-0.42,-0.145],
 [-0.051,0.026,0.008,0.107,0.116,0.188,0.18,0.2,0.266,0.205,0.331,0.167,0.358,0.113,0.342,0.026,0.277,-0.047,0.266,-0.07,0.18,-0.118,0.116,-0.129,0.057,-0.102,-0.003,-0.048,-0.035,-0.02]];
const level14=[[0.051,0.037,0.089,0.113,0.191,0.161,0.266,0.156,0.315,0.102,0.288,0.015,0.186,-0.044,0.11,-0.039]];
const contourLevels=[level0,level1,level2,level3,level4,level5,level6,level7,level8,level9,level10,level11,level12,level13,level14];

const W=3762,H=3741,L=376,R=3574,T=186,B=3365;
const sx=d3.scaleLinear().domain([-3,3]).range([L,R]);
const sy=d3.scaleLinear().domain([-3,3]).range([B,T]);
const svg=d3.select("body").append("svg").attr("width",W).attr("height",H).style("background","#fff");

const ringLine=d3.line().x(d=>sx(d[0])).y(d=>sy(d[1])).curve(d3.curveCatmullRomClosed.alpha(0.5));
const ringData=contourLevels.flatMap((rings,level)=>rings.map(r=>({level,pts:d3.range(0,r.length,2).map(i=>[r[i],r[i+1]])})));
svg.append("g").selectAll("path").data(ringData).join("path")
  .attr("d",d=>ringLine(d.pts)).attr("fill","none").attr("stroke",d=>levelColors[d.level])
  .attr("stroke-width",10).attr("stroke-linejoin","round");

// frame & ticks
const tl=30;
const inner=tickValues.slice(1,-1);
const ax=svg.append("g").attr("stroke","#000").attr("stroke-width",9);
ax.selectAll(".xb").data(inner).join("line").attr("class","xb").attr("x1",sx).attr("x2",sx).attr("y1",B).attr("y2",B-tl);
ax.selectAll(".xt").data(inner).join("line").attr("class","xt").attr("x1",sx).attr("x2",sx).attr("y1",T).attr("y2",T+tl);
ax.selectAll(".yl").data(inner).join("line").attr("class","yl").attr("y1",sy).attr("y2",sy).attr("x1",L).attr("x2",L+tl);
ax.selectAll(".yr").data(inner).join("line").attr("class","yr").attr("y1",sy).attr("y2",sy).attr("x1",R).attr("x2",R-tl);
svg.append("rect").attr("x",L).attr("y",T).attr("width",R-L).attr("height",B-T).attr("fill","none").attr("stroke","#000").attr("stroke-width",10);

// points
svg.append("g").selectAll("circle").data(d3.range(pointX.length)).join("circle")
  .attr("cx",i=>sx(pointX[i])).attr("cy",i=>sy(pointY[i])).attr("r",19.7).attr("fill","#000");

// labels
const lab=(sel,fx,fy)=>sel.join("text").text(d=>String(d))
  .attr("transform",d=>`translate(${fx(d)},${fy(d)}) scale(1.28,1)`)
  .attr("dx",d=>d<0?"0 13":null)
  .attr("text-anchor","end").attr("font-family","'Liberation Sans',Helvetica,Arial,sans-serif").attr("font-size",118).attr("fill","#000");
lab(svg.append("g").selectAll("text").data(tickValues),d=>sx(d)+27,()=>3558);
lab(svg.append("g").selectAll("text").data(tickValues),()=>284,d=>sy(d)+54);
</script></body></html>
